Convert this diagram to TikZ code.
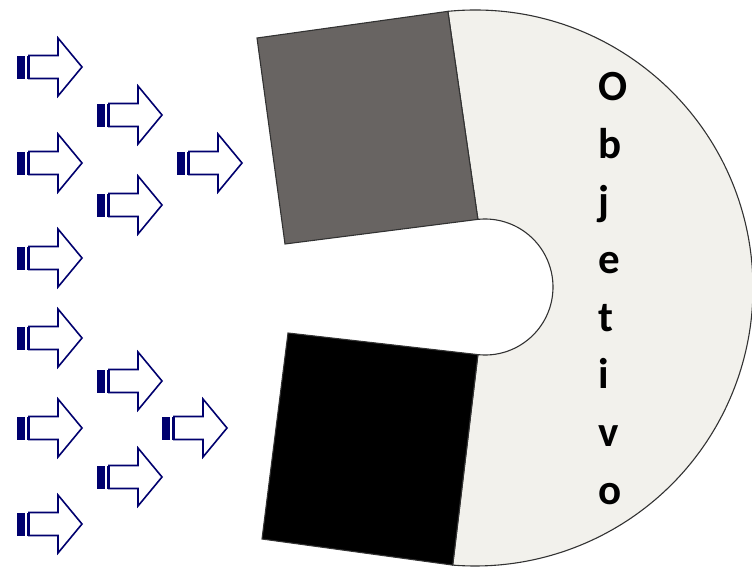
\documentclass[tikz,border=0pt]{standalone}
\usepackage{fontspec}
\setsansfont{Carlito}
\definecolor{arrownavy}{RGB}{0,0,110}
\definecolor{polegray}{RGB}{104,100,98}
\definecolor{bodycream}{RGB}{242,241,236}
\definecolor{rimgray}{RGB}{50,50,50}
\tikzset{
  rim/.style = {draw=rimgray, line width=1.1pt},
  letters/.style = {font=\sffamily\bfseries\fontsize{43}{57.7}\selectfont,
                    align=left, inner sep=0pt},
  flux arrow/.pic = {
    \fill[arrownavy] (0,-11.5) rectangle (7.5,11.5);
    \fill[arrownavy] (9.5,-11.5) rectangle (12,11.5);
    \draw[arrownavy, line width=1.6pt, fill=white]
      (12,-11.5) -- (41,-11.5) -- (41,-29) -- (65,0) -- (41,29)
      -- (41,11.5) -- (12,11.5) -- cycle;
  },
}

\begin{document}
\begin{tikzpicture}[x=1pt, y=-1pt]
	\useasboundingbox (0,0) rectangle (752,570);
	% horseshoe body
	\coordinate (ot) at ([shift={(475,288)}]-95.6:278);
	\coordinate (ob) at ([shift={(475,288)}]94.6:278);
	\coordinate (it) at ([shift={(485,287)}]-96:68);
	\coordinate (ib) at ([shift={(485,287)}]96:68);
	\draw [rim, fill=bodycream] (ot) arc [start angle=-95.6, end angle=94.6, radius=278]
		-- (ib) arc [start angle=96, end angle=-96, radius=68] -- cycle;
	% pole pieces
	\draw [rim, fill=polegray] (257,38) -- (ot) -- (it) -- (285,244) -- cycle;
	\draw [rim, fill=black] (288,333) -- (ib) -- (ob) -- (262,539) -- cycle;
	\node [letters, anchor=north west] (obj) at (598,72) {O\\b\\j\\e\\t\\i\\v\\o};
	% incoming arrows
	\pic at (17,67) {flux arrow};
	\pic at (17,163) {flux arrow};
	\pic at (17,258) {flux arrow};
	\pic at (17,338) {flux arrow};
	\pic at (17,428) {flux arrow};
	\pic at (17,524) {flux arrow};
	\pic at (97,115) {flux arrow};
	\pic at (97,205) {flux arrow};
	\pic at (97,381) {flux arrow};
	\pic at (97,477) {flux arrow};
	\pic at (177,163) {flux arrow};
	\pic at (162,428) {flux arrow};
\end{tikzpicture}
\end{document}
